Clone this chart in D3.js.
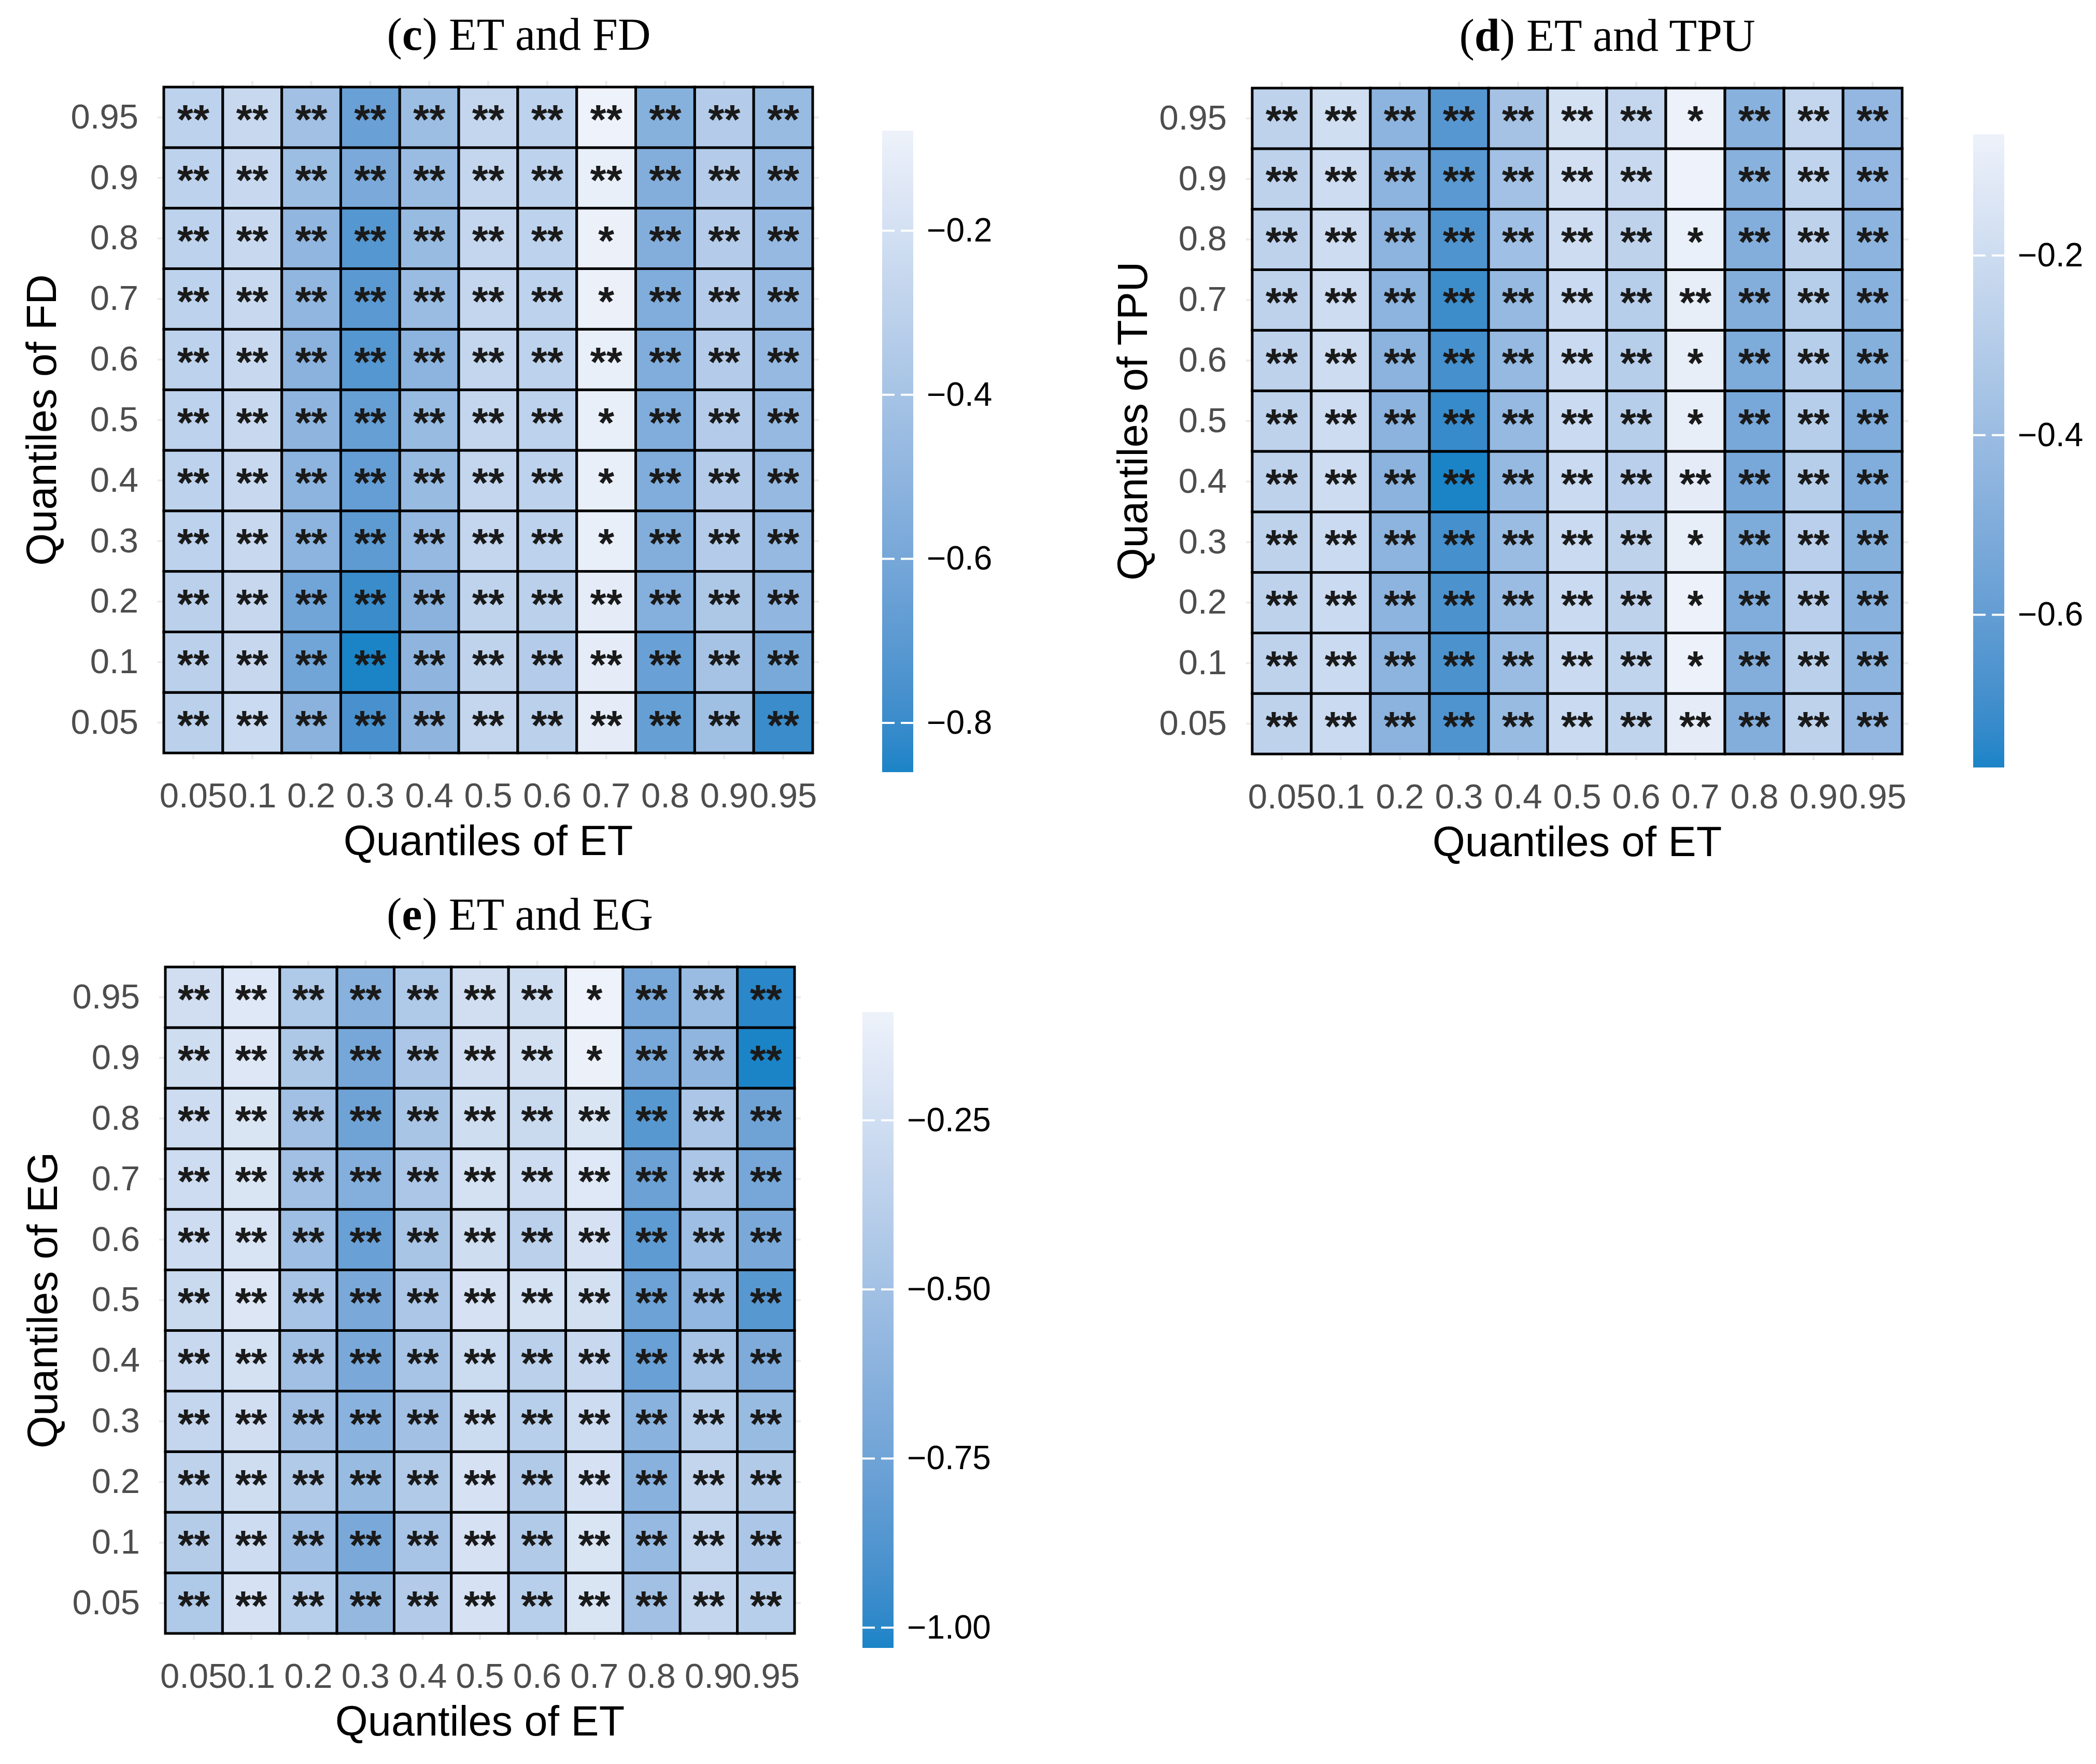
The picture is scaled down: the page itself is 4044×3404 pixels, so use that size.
<!DOCTYPE html>
<html>
<head>
<meta charset="utf-8">
<script src="https://cdn.jsdelivr.net/npm/d3@7"></script>
<style>
  body { margin: 0; background: #fff; }
  svg { display: block; }
</style>
</head>
<body>
<div id="chart"></div>
<script>
// quantile levels used on both axes of every panel
var quantiles = ["0.05", "0.1", "0.2", "0.3", "0.4", "0.5", "0.6", "0.7", "0.8", "0.9", "0.95"];

// coefficients, one row per y quantile (0.05 first), columns = ET quantiles
var fdValues = [
  [-0.31, -0.24, -0.52, -0.76, -0.50, -0.27, -0.31, -0.12, -0.66, -0.43, -0.80],
  [-0.31, -0.26, -0.62, -0.86, -0.50, -0.29, -0.34, -0.12, -0.65, -0.40, -0.59],
  [-0.31, -0.26, -0.62, -0.80, -0.52, -0.29, -0.31, -0.12, -0.54, -0.37, -0.49],
  [-0.30, -0.25, -0.51, -0.69, -0.47, -0.27, -0.30, -0.10, -0.55, -0.34, -0.47],
  [-0.30, -0.25, -0.51, -0.67, -0.46, -0.27, -0.30, -0.10, -0.56, -0.34, -0.47],
  [-0.30, -0.25, -0.50, -0.66, -0.46, -0.27, -0.30, -0.10, -0.56, -0.34, -0.47],
  [-0.30, -0.25, -0.52, -0.72, -0.51, -0.27, -0.30, -0.10, -0.56, -0.34, -0.47],
  [-0.30, -0.25, -0.49, -0.70, -0.45, -0.27, -0.30, -0.09, -0.56, -0.34, -0.47],
  [-0.30, -0.25, -0.49, -0.72, -0.46, -0.27, -0.30, -0.09, -0.55, -0.34, -0.47],
  [-0.30, -0.25, -0.44, -0.58, -0.45, -0.27, -0.30, -0.10, -0.55, -0.34, -0.47],
  [-0.30, -0.25, -0.42, -0.65, -0.44, -0.27, -0.30, -0.078, -0.53, -0.34, -0.46]
];

var tpuValues = [
  [-0.26, -0.21, -0.46, -0.66, -0.41, -0.21, -0.25, -0.10, -0.49, -0.26, -0.43],
  [-0.26, -0.21, -0.45, -0.67, -0.40, -0.21, -0.25, -0.07, -0.49, -0.27, -0.45],
  [-0.26, -0.21, -0.45, -0.67, -0.40, -0.21, -0.26, -0.07, -0.50, -0.28, -0.47],
  [-0.26, -0.21, -0.45, -0.69, -0.40, -0.21, -0.26, -0.09, -0.51, -0.28, -0.48],
  [-0.26, -0.20, -0.46, -0.77, -0.42, -0.21, -0.28, -0.10, -0.53, -0.29, -0.50],
  [-0.26, -0.20, -0.46, -0.72, -0.42, -0.21, -0.29, -0.09, -0.53, -0.29, -0.50],
  [-0.26, -0.20, -0.46, -0.69, -0.42, -0.21, -0.29, -0.09, -0.51, -0.29, -0.48],
  [-0.26, -0.20, -0.45, -0.71, -0.42, -0.21, -0.29, -0.09, -0.49, -0.29, -0.47],
  [-0.26, -0.20, -0.45, -0.66, -0.38, -0.20, -0.26, -0.08, -0.49, -0.26, -0.45],
  [-0.26, -0.20, -0.45, -0.63, -0.37, -0.18, -0.22, -0.065, -0.47, -0.25, -0.43],
  [-0.26, -0.19, -0.45, -0.64, -0.36, -0.17, -0.24, -0.07, -0.47, -0.24, -0.43]
];

var egValues = [
  [-0.43, -0.22, -0.38, -0.57, -0.41, -0.22, -0.38, -0.20, -0.50, -0.32, -0.38],
  [-0.40, -0.27, -0.52, -0.70, -0.47, -0.22, -0.42, -0.20, -0.56, -0.32, -0.45],
  [-0.35, -0.26, -0.42, -0.55, -0.42, -0.22, -0.42, -0.22, -0.63, -0.33, -0.42],
  [-0.32, -0.25, -0.50, -0.62, -0.50, -0.28, -0.38, -0.27, -0.62, -0.38, -0.55],
  [-0.30, -0.23, -0.50, -0.70, -0.47, -0.28, -0.37, -0.30, -0.78, -0.47, -0.68],
  [-0.29, -0.19, -0.47, -0.70, -0.45, -0.22, -0.23, -0.24, -0.76, -0.58, -0.85],
  [-0.27, -0.21, -0.52, -0.78, -0.46, -0.26, -0.37, -0.22, -0.82, -0.52, -0.70],
  [-0.27, -0.20, -0.50, -0.65, -0.45, -0.23, -0.27, -0.17, -0.77, -0.45, -0.72],
  [-0.27, -0.20, -0.50, -0.75, -0.46, -0.26, -0.29, -0.20, -0.85, -0.45, -0.75],
  [-0.26, -0.18, -0.44, -0.72, -0.45, -0.25, -0.24, -0.10, -0.71, -0.59, -1.03],
  [-0.25, -0.17, -0.43, -0.63, -0.43, -0.25, -0.26, -0.09, -0.71, -0.54, -1.00]
];

// significance marks: "**" everywhere except these [ET, y quantile, mark]
var fdStarExceptions = [["0.7", "0.3", "*"], ["0.7", "0.4", "*"], ["0.7", "0.5", "*"], ["0.7", "0.7", "*"], ["0.7", "0.8", "*"]];
var tpuStarExceptions = [["0.7", "0.1", "*"], ["0.7", "0.2", "*"], ["0.7", "0.3", "*"], ["0.7", "0.5", "*"], ["0.7", "0.6", "*"],
  ["0.7", "0.8", "*"], ["0.7", "0.9", ""], ["0.7", "0.95", "*"]];
var egStarExceptions = [["0.7", "0.9", "*"], ["0.7", "0.95", "*"]];

// legend ticks
var fdLegendTicks = [-0.8, -0.6, -0.4, -0.2];
var tpuLegendTicks = [-0.6, -0.4, -0.2];
var egLegendTicks = [-1.0, -0.75, -0.5, -0.25];

var lowColor = "#1b84c7";
var highColor = "#eef2fa";

var svgWidth = 4044;
var svgHeight = 3404;

var svg = d3.select("#chart")
  .append("svg")
  .attr("width", svgWidth)
  .attr("height", svgHeight)
  .attr("viewBox", `0 0 ${svgWidth} ${svgHeight}`);

var defs = svg.append("defs");

var panels = [
  { letter: "c", yName: "FD", values: fdValues, stars: fdStarExceptions, legendTicks: fdLegendTicks, legendFormat: ".1f",
    left: 316, top: 168, width: 1252, height: 1285, barX: 1702, barTop: 252, barBottom: 1490, titleX: 1001, yLabelX: 108 },
  { letter: "d", yName: "TPU", values: tpuValues, stars: tpuStarExceptions, legendTicks: tpuLegendTicks, legendFormat: ".1f",
    left: 2416, top: 170, width: 1254, height: 1285, barX: 3807, barTop: 259, barBottom: 1481, titleX: 3101, yLabelX: 2213 },
  { letter: "e", yName: "EG", values: egValues, stars: egStarExceptions, legendTicks: egLegendTicks, legendFormat: ".2f",
    left: 319, top: 1866, width: 1214, height: 1286, barX: 1664, barTop: 1953, barBottom: 3180, titleX: 1003, yLabelX: 110 }
];

panels.forEach(function(p, pi) {
  var g = svg.append("g");

  // Scales
  var x = d3.scaleBand().domain(quantiles).range([p.left, p.left + p.width]).padding(0);
  var y = d3.scaleBand().domain(quantiles).range([p.top + p.height, p.top]).padding(0);

  var flat = [];
  p.values.forEach(function(row, ri) {
    row.forEach(function(v, ci) {
      flat.push({ xq: quantiles[ci], yq: quantiles[ri], value: v, mark: "**" });
    });
  });
  p.stars.forEach(function(s) {
    var cell = flat.find(d => d.xq === s[0] && d.yq === s[1]);
    if (cell) cell.mark = s[2];
  });

  var extent = d3.extent(flat, d => d.value);
  var color = d3.scaleLinear()
    .domain(extent)
    .range([lowColor, highColor])
    .interpolate(d3.interpolateLab);

  // light grid lines peeking out of the tiles
  var gridExt = 12;
  g.append("g").selectAll("line.vgrid").data(quantiles).enter()
    .append("line")
    .attr("x1", d => x(d) + x.bandwidth() / 2)
    .attr("x2", d => x(d) + x.bandwidth() / 2)
    .attr("y1", p.top - gridExt)
    .attr("y2", p.top + p.height + gridExt)
    .attr("stroke", "#ebebeb")
    .attr("stroke-width", 4);
  g.append("g").selectAll("line.hgrid").data(quantiles).enter()
    .append("line")
    .attr("y1", d => y(d) + y.bandwidth() / 2)
    .attr("y2", d => y(d) + y.bandwidth() / 2)
    .attr("x1", p.left - gridExt)
    .attr("x2", p.left + p.width + gridExt)
    .attr("stroke", "#ebebeb")
    .attr("stroke-width", 4);

  // Tiles
  g.append("g").selectAll("rect").data(flat).enter()
    .append("rect")
    .attr("x", d => x(d.xq))
    .attr("y", d => y(d.yq))
    .attr("width", x.bandwidth())
    .attr("height", y.bandwidth())
    .attr("fill", d => color(d.value))
    .attr("stroke", "#000")
    .attr("stroke-width", 5);

  // Stars
  g.append("g").selectAll("text").data(flat).enter()
    .append("text")
    .attr("x", d => x(d.xq) + x.bandwidth() / 2)
    .attr("y", d => y(d.yq) + y.bandwidth() / 2 + 32)
    .attr("text-anchor", "middle")
    .attr("font-family", "'Liberation Sans', Arial, sans-serif")
    .attr("font-size", 80)
    .attr("font-weight", "bold")
    .attr("fill", "#1a1a1a")
    .text(d => d.mark);

  // Axes
  var bottomAxis = d3.axisBottom(x).tickSize(0).tickPadding(57);
  var leftAxis = d3.axisLeft(y).tickSize(0).tickPadding(49);

  var xAxisG = g.append("g")
    .attr("transform", `translate(0, ${p.top + p.height})`)
    .call(bottomAxis);
  var yAxisG = g.append("g")
    .attr("transform", `translate(${p.left}, 0)`)
    .call(leftAxis);

  [xAxisG, yAxisG].forEach(function(a) {
    a.select(".domain").remove();
    a.selectAll("text")
      .attr("font-family", "'Liberation Sans', Arial, sans-serif")
      .attr("font-size", 67)
      .attr("fill", "#4d4d4d");
  });

  // Axis names
  g.append("text")
    .attr("x", p.left + p.width / 2)
    .attr("y", p.top + p.height + 197)
    .attr("text-anchor", "middle")
    .attr("font-family", "'Liberation Sans', Arial, sans-serif")
    .attr("font-size", 81)
    .attr("fill", "#000")
    .text("Quantiles of ET");

  g.append("text")
    .attr("transform", `translate(${p.yLabelX}, ${p.top + p.height / 2}) rotate(-90)`)
    .attr("text-anchor", "middle")
    .attr("font-family", "'Liberation Sans', Arial, sans-serif")
    .attr("font-size", 81)
    .attr("fill", "#000")
    .text("Quantiles of " + p.yName);

  // Title
  var title = g.append("text")
    .attr("x", p.titleX)
    .attr("y", p.top - 72)
    .attr("text-anchor", "middle")
    .attr("font-family", "'Liberation Serif', 'Times New Roman', serif")
    .attr("font-size", 88)
    .attr("fill", "#000");
  title.append("tspan").text("(");
  title.append("tspan").attr("font-weight", "bold").text(p.letter);
  title.append("tspan").text(") ET and " + p.yName);

  // Colour bar
  var barWidth = 60;
  var legendScale = d3.scaleLinear().domain(extent).range([p.barBottom, p.barTop]);

  var grad = defs.append("linearGradient")
    .attr("id", "grad" + pi)
    .attr("x1", 0).attr("y1", 1).attr("x2", 0).attr("y2", 0);
  d3.range(0, 1.0001, 0.05).forEach(function(t) {
    grad.append("stop")
      .attr("offset", t)
      .attr("stop-color", color(extent[0] + t * (extent[1] - extent[0])));
  });

  g.append("rect")
    .attr("x", p.barX)
    .attr("y", p.barTop)
    .attr("width", barWidth)
    .attr("height", p.barBottom - p.barTop)
    .attr("fill", `url(#grad${pi})`);

  g.append("g").selectAll("line.bartick").data(p.legendTicks).enter()
    .append("g")
    .each(function(t) {
      var ty = legendScale(t);
      d3.select(this).append("line")
        .attr("x1", p.barX).attr("x2", p.barX + 24)
        .attr("y1", ty).attr("y2", ty)
        .attr("stroke", "#fff").attr("stroke-width", 4);
      d3.select(this).append("line")
        .attr("x1", p.barX + barWidth - 24).attr("x2", p.barX + barWidth)
        .attr("y1", ty).attr("y2", ty)
        .attr("stroke", "#fff").attr("stroke-width", 4);
    });

  var legendAxis = d3.axisRight(legendScale)
    .tickValues(p.legendTicks)
    .tickFormat(d3.format(p.legendFormat))
    .tickSize(0)
    .tickPadding(26);

  var legendG = g.append("g")
    .attr("transform", `translate(${p.barX + barWidth}, 0)`)
    .call(legendAxis);
  legendG.select(".domain").remove();
  legendG.selectAll("text")
    .attr("font-family", "'Liberation Sans', Arial, sans-serif")
    .attr("font-size", 64)
    .attr("fill", "#000");
});
</script>
</body>
</html>
